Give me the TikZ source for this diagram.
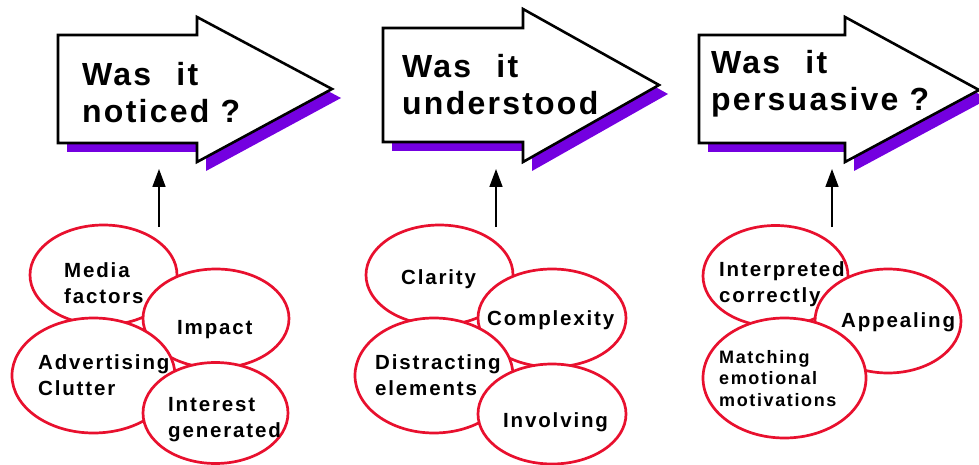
\documentclass[tikz,border=0pt]{standalone}
\usepackage{fontspec}
\setmainfont{Liberation Sans}
\newfontfamily\bigfont{Liberation Sans}[LetterSpace=7]
\newfontfamily\smallfont{Liberation Sans}[LetterSpace=9]
\usetikzlibrary{shapes.geometric,arrows.meta}
\definecolor{shadowpurple}{RGB}{116,0,224}
\definecolor{ovalred}{RGB}{232,16,46}
\tikzset{
  bubble/.style={ellipse, draw=ovalred, line width=2.7pt, fill=white, inner sep=0pt, outer sep=0pt},
  qtext/.style={anchor=base west, inner sep=0pt, align=left, font=\bigfont\bfseries\fontsize{32}{37}\selectfont},
  btext/.style={anchor=base west, inner sep=0pt, align=left, font=\smallfont\bfseries\fontsize{20.5}{26}\selectfont},
  stext/.style={anchor=base west, inner sep=0pt, align=left, font=\smallfont\bfseries\fontsize{18}{21.5}\selectfont},
  bigarrowline/.style={draw=black, line width=2.6pt, fill=white, line join=miter},
  bigarrowshadow/.style={fill=shadowpurple, draw=none},
  uparrow/.style={line width=1.6pt, -{Triangle[width=13pt,length=18pt]}}
}
% #1 L, #2 T, #3 B, #4 H, #5 HT, #6 HB, #7 tipx, #8 tipy
\newcommand\qarrowpath[8]{(#1,#2) -- (#4,#2) -- (#4,#5) -- (#7,#8) -- (#4,#6) -- (#4,#3) -- (#1,#3) -- cycle}
\begin{document}
\begin{tikzpicture}[x=1pt,y=-1pt]
\useasboundingbox (0,0) rectangle (979,465);
% ---- big arrows ----
\fill[bigarrowshadow, shift={(9,9)}] \qarrowpath{58}{35}{143}{197}{17}{162}{332}{89};
\path[bigarrowline] \qarrowpath{58}{35}{143}{197}{17}{162}{332}{89};
\fill[bigarrowshadow, shift={(9,9)}] \qarrowpath{383}{28}{142}{523}{9}{162}{659}{85};
\path[bigarrowline] \qarrowpath{383}{28}{142}{523}{9}{162}{659}{85};
\fill[bigarrowshadow, shift={(9,9)}] \qarrowpath{699}{35}{143}{845}{17}{162}{979}{90};
\path[bigarrowline] \qarrowpath{699}{35}{143}{845}{17}{162}{979}{90};
% multi-line nodes: base anchor = baseline of the last line
\node[qtext] (q1) at (82,123) {Was\hspace{14pt} it\\noticed ?};
\node[qtext] (q2) at (402,115) {Was\hspace{14pt} it\\understood};
\node[qtext] (q3) at (711,111) {Was\hspace{14pt} it\\persuasive ?};
% ---- group 1 ----
\node[bubble, minimum width=147pt, minimum height=100pt] (media) at (103.5,275) {};
\node[bubble, minimum width=146pt, minimum height=99pt] (impact) at (216,318.5) {};
\node[bubble, minimum width=163pt, minimum height=115pt] (advert) at (93.5,375.5) {};
\node[bubble, minimum width=145pt, minimum height=101pt] (interest) at (215.5,413) {};
\node[btext] (tmedia) at (64,303) {Media\\factors};
\node[btext] (timpact) at (177,334) {Impact};
\node[btext] (tadvert) at (38,395) {Advertising\\Clutter};
\node[btext] (tinterest) at (168,437) {Interest\\generated};
% ---- group 2 ----
\node[bubble, minimum width=147pt, minimum height=100pt] (clarity) at (439.5,275) {};
\node[bubble, minimum width=148pt, minimum height=98pt] (complex) at (552,318) {};
\node[bubble, minimum width=158pt, minimum height=115pt] (distract) at (434,375.5) {};
\node[bubble, minimum width=148pt, minimum height=100pt] (involv) at (552,414) {};
\node[btext] (tclarity) at (401,284) {Clarity};
\node[btext] (tcomplex) at (487,325) {Complexity};
\node[btext] (tdistract) at (375,395) {Distracting\\elements};
\node[btext] (tinvolv) at (503,427) {Involving};
% ---- group 3 ----
\node[bubble, minimum width=145pt, minimum height=101pt] (interp) at (775.5,276) {};
\node[bubble, minimum width=146pt, minimum height=104pt] (appeal) at (888,321) {};
\node[bubble, minimum width=163pt, minimum height=120pt] (match) at (784.5,378) {};
\node[btext] (tinterp) at (719,302) {Interpreted\\correctly};
\node[btext] (tappeal) at (841,327) {Appealing};
\node[stext] (tmatch) at (719,406) {Matching\\emotional\\motivations};
% ---- connectors ----
\coordinate (g1top) at (159,227);
\coordinate (a1bot) at (159,169);
\coordinate (g2top) at (496,227);
\coordinate (a2bot) at (496,169);
\coordinate (g3top) at (832,227);
\coordinate (a3bot) at (832,169);
\draw[uparrow] (g1top) -- (a1bot);
\draw[uparrow] (g2top) -- (a2bot);
\draw[uparrow] (g3top) -- (a3bot);
\end{tikzpicture}
\end{document}
